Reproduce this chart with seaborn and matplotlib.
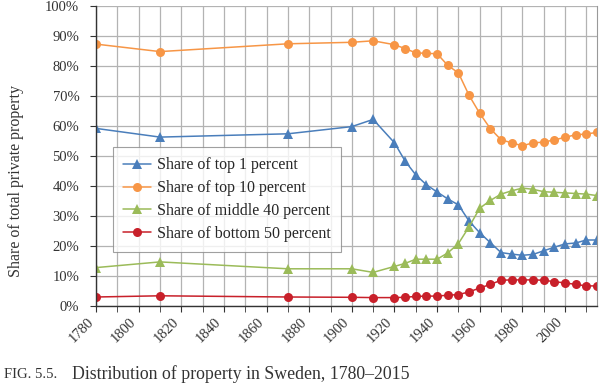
import matplotlib
matplotlib.use("Agg")
import matplotlib.pyplot as plt
import matplotlib.ticker as mticker
import matplotlib.transforms as mtransforms
import numpy as np
import pandas as pd
import seaborn as sns

# --- data ---
years = [1780, 1810, 1870, 1900, 1910, 1920, 1925, 1930, 1935, 1940, 1945,
         1950, 1955, 1960, 1965, 1970, 1975, 1980, 1985, 1990, 1995, 2000,
         2005, 2010, 2015]
top1 = [59.2, 56.3, 57.4, 59.8, 62.2, 54.4, 48.3, 43.7, 40.4, 38.0, 35.7,
        33.7, 28.3, 24.4, 21.1, 17.8, 17.3, 16.9, 17.2, 18.4, 19.6, 20.7,
        21.0, 22.0, 22.0]
top10 = [87.3, 84.8, 87.4, 87.9, 88.4, 87.1, 85.8, 84.4, 84.2, 84.1, 80.2,
         77.7, 70.2, 64.2, 59.1, 55.4, 54.4, 53.4, 54.4, 54.6, 55.4, 56.2,
         57.1, 57.3, 57.9]
middle40 = [12.8, 14.7, 12.4, 12.4, 11.2, 13.2, 14.2, 15.6, 15.6, 15.6, 17.7,
            20.8, 26.4, 32.6, 35.2, 37.3, 38.4, 39.3, 38.9, 38.1, 37.9, 37.7,
            37.5, 37.3, 36.8]
bottom50 = [3.0, 3.4, 3.0, 2.9, 2.8, 2.8, 2.9, 3.2, 3.3, 3.3, 3.6,
            3.8, 4.7, 6.0, 7.2, 8.6, 8.7, 8.7, 8.7, 8.6, 8.1, 7.7,
            7.2, 6.7, 6.7]

series_names = ["Share of top 1 percent", "Share of top 10 percent",
                "Share of middle 40 percent", "Share of bottom 50 percent"]
xtick_years = list(range(1780, 2001, 20))

# --- styling ---
COLORS = ["#4A7EBB", "#F79646", "#9BBB59", "#C8202A"]
MARKERS = ["^", "o", "^", "o"]
TEXT_COLOR = "#333333"

sns.set_style("whitegrid")
plt.rcParams["font.family"] = ["Liberation Serif", "DejaVu Serif"]

fig = plt.figure(figsize=(6.04, 3.89), dpi=100)
ax = fig.add_axes([96 / 604, 1 - 306 / 389, (597 - 96) / 604, 300 / 389])

df = pd.DataFrame({"year": years, series_names[0]: top1, series_names[1]: top10,
                   series_names[2]: middle40, series_names[3]: bottom50})
long_df = df.melt(id_vars="year", var_name="series", value_name="share")

for name, color, marker in zip(series_names, COLORS, MARKERS):
    sub = long_df[long_df["series"] == name]
    sns.lineplot(data=sub, x="year", y="share", ax=ax, color=color,
                 marker=marker, markersize=6.5, markeredgewidth=0,
                 linewidth=1.1, label=name)

ax.set_xlim(1780, 2015)
ax.set_ylim(0, 100)
ax.set_xticks(xtick_years)
ax.xaxis.set_minor_locator(mticker.MultipleLocator(10))
ax.yaxis.set_major_locator(mticker.MultipleLocator(10))
ax.yaxis.set_major_formatter(mticker.FuncFormatter(lambda v, p: f"{int(v)}%"))
ax.grid(True, which="both", color="#b3b3b3", linewidth=0.9)
ax.set_xlabel("")
ax.set_ylabel("Share of total private property", fontsize=11.5, color=TEXT_COLOR)
ax.yaxis.set_label_coords(-72 / 501, 0.417)

shift = mtransforms.ScaledTranslation(6 / 72, 0, fig.dpi_scale_trans)
for lbl in ax.get_xticklabels():
    lbl.set_rotation(45)
    lbl.set_ha("right")
    lbl.set_transform(lbl.get_transform() + shift)
ax.tick_params(axis="both", which="both", direction="out", length=4,
               color="#333333", labelsize=10.5, labelcolor=TEXT_COLOR,
               bottom=True, left=True)
ax.tick_params(axis="y", pad=8)
ax.tick_params(axis="x", pad=3)

for side in ["left", "bottom"]:
    ax.spines[side].set_color("#333333")
    ax.spines[side].set_linewidth(1.0)
ax.spines["right"].set_color("#999999")
ax.spines["top"].set_visible(False)

leg = ax.legend(loc="upper left", bbox_to_anchor=(17 / 501, 159 / 300),
                borderaxespad=0, frameon=True, fontsize=11.5, borderpad=0.65,
                labelspacing=0.42, handlelength=1.75, handletextpad=0.35,
                fancybox=False)
leg.get_frame().set_edgecolor("#888888")
leg.get_frame().set_linewidth(0.8)
for h in leg.get_lines():
    h.set_markersize(6.5)

fig.text(4 / 604, 1 - 374 / 389, "FIG. 5.5.", fontsize=10.5, color=TEXT_COLOR,
         va="center")
fig.text(72 / 604, 1 - 374 / 389, "Distribution of property in Sweden, 1780–2015",
         fontsize=12.8, color=TEXT_COLOR, va="center")

fig.savefig("out.png", dpi=100)
